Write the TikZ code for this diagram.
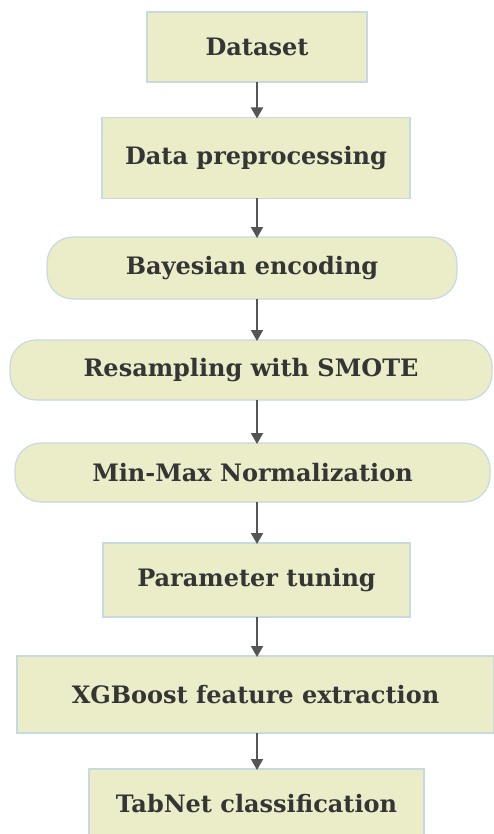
\documentclass[tikz,border=0pt]{standalone}
\usepackage{fontspec}
\setmainfont{DejaVu Serif}
\usetikzlibrary{arrows.meta}
\definecolor{boxfill}{HTML}{EBEDC8}
\definecolor{boxline}{HTML}{C9D9E0}
\definecolor{ink}{HTML}{353535}
\definecolor{arrowc}{HTML}{555555}
\tikzset{
  stepbox/.style={draw=boxline, line width=1.2pt, fill=boxfill, text=ink,
    font=\fontsize{24}{28}\selectfont\bfseries, inner sep=0pt, outer sep=0pt},
  pill/.style={stepbox, rounded corners=26pt},
  flow/.style={draw=arrowc, line width=1.8pt,
    -{Triangle[length=11pt,width=12pt]}, shorten >=-1pt}
}
\begin{document}
\begin{tikzpicture}[x=1pt,y=1pt]
  \useasboundingbox (0,0) rectangle (494,-834);
  \coordinate (axis) at (257,0);
  \node[stepbox, minimum width=220pt, minimum height=70pt] (ds)  at (257,-47)    {Dataset};
  \node[stepbox, minimum width=308pt, minimum height=81pt] (pre) at (256,-158)   {Data preprocessing};
  \node[pill,    minimum width=410pt, minimum height=62pt] (bay) at (252,-268)   {Bayesian encoding};
  \node[pill,    minimum width=482pt, minimum height=60pt] (smo) at (251,-370)   {Resampling with SMOTE};
  \node[pill,    minimum width=475pt, minimum height=59pt] (mm)  at (252.5,-472.5) {Min-Max Normalization};
  \node[stepbox, minimum width=307pt, minimum height=74pt] (par) at (256.5,-580) {Parameter tuning};
  \node[stepbox, minimum width=477pt, minimum height=77pt] (xgb) at (255.5,-694.5) {XGBoost feature extraction};
  \node[stepbox, minimum width=335pt, minimum height=70pt] (tab) at (256.5,-804) {TabNet classification};
  \foreach \a/\b in {ds/pre, pre/bay, bay/smo, smo/mm, mm/par, par/xgb, xgb/tab}
    \draw[flow] (\a.south -| axis) -- (\b.north -| axis);
\end{tikzpicture}
\end{document}
